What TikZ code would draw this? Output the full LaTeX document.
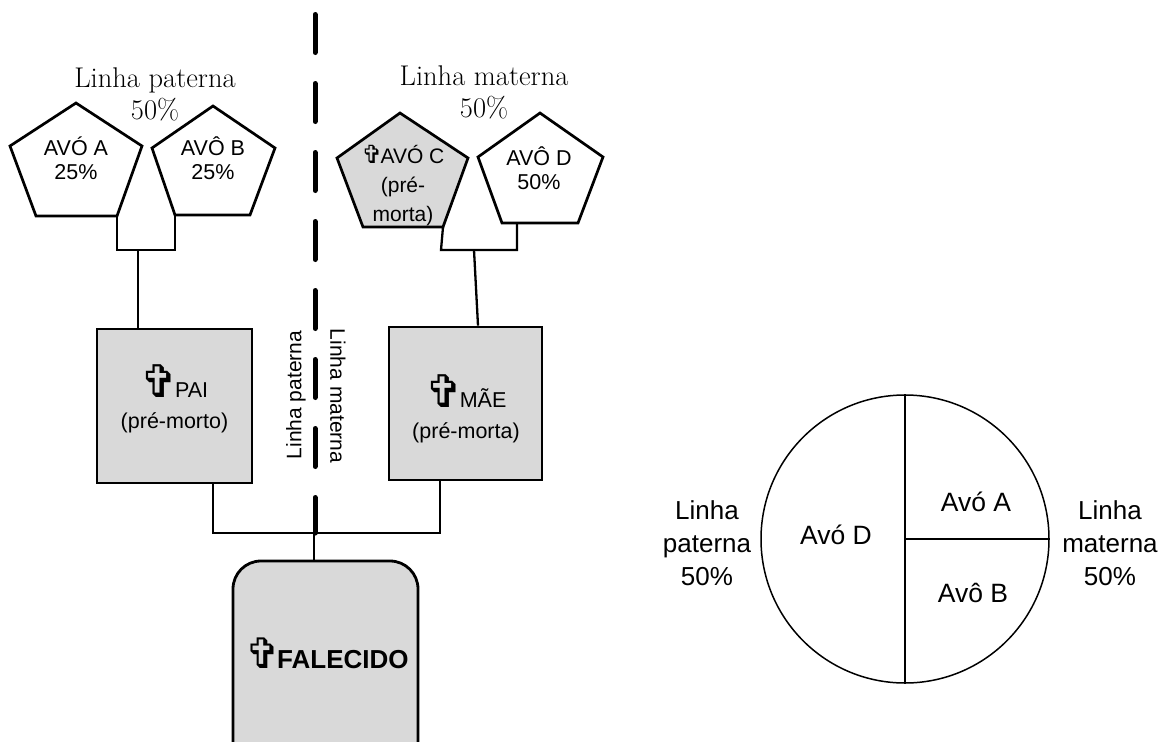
\documentclass[tikz,border=0pt]{standalone}
\usepackage{fontspec}
\newfontfamily\arialike{Liberation Sans}
\newfontfamily\dejavu{DejaVu Sans}
\newcommand{\obitcross}[1]{{\fontsize{#1}{#1}\dejavu ✞\kern-0.08em}}
\newcommand{\fs}[2]{\fontsize{#1}{#2}\selectfont}
\definecolor{boxgray}{HTML}{D9D9D9}

\begin{document}
\begin{tikzpicture}[x=1pt,y=-1pt,
  pent/.style={draw=black, line width=2.7pt, line join=miter, fill=white},
  pentdead/.style={pent, fill=boxgray},
  famBox/.style={draw=black, line width=2.8pt, fill=boxgray, minimum width=155pt, minimum height=154pt, inner sep=0pt},
  link/.style={draw=black, line width=2.3pt},
  sanslbl/.style={font=\arialike\fs{21.5}{24}, align=center, inner sep=0pt},
  serifl/.style={font=\fs{28.5}{32}, align=center, inner sep=0pt},
  pielbl/.style={font=\arialike\fs{26.5}{33}, align=center, inner sep=0pt},
]
\useasboundingbox (0,0) rectangle (1168,742);
\clip (0,0) rectangle (1168,742);

% ---- paternal / maternal divider ----
\coordinate (div-top) at (315,14.5);
\coordinate (div-bot) at (315,533);
\draw[line width=5pt, line cap=round, dash pattern=on 38pt off 31pt] (div-top) -- (div-bot);
\node[font=\arialike\fs{21}{21}, rotate=90, inner sep=0pt] (vpat) at (296,395) {Linha paterna};
\node[font=\arialike\fs{21}{21}, rotate=-90, inner sep=0pt] (vmat) at (338,396) {Linha materna};

% ---- line headings ----
\node[serifl] (hpat) at (155,94) {Linha paterna\\50\%};
\node[serifl] (hmat) at (484,92) {Linha materna\\50\%};

% ---- grandparents (pentagons) ----
\draw[pent] (76,103) -- (142,146) -- (117,216) coordinate (A-br) -- (36,216) -- (10,146) -- cycle;
\draw[pent] (213,106) -- (275,148) -- (250,215) -- (175,215) coordinate (B-bl) -- (152,148) -- cycle;
\draw[pentdead] (400,113) -- (468,158) -- (443,227) coordinate (C-br) -- (363,227) -- (337,158) -- cycle;
\draw[pent] (540,113) -- (603,157) -- (578,223) -- (502,223) -- (478,157) -- cycle;
\coordinate (D-j) at (517,223);

\node[sanslbl] (tA) at (76,158) {AVÓ A\\25\%};
\node[sanslbl] (tB) at (213,158) {AVÔ B\\25\%};
\node[sanslbl, font=\arialike\fs{21}{29}] (tC) at (403,186) {\obitcross{25}AVÓ C\\(pré-\\morta)};
\node[sanslbl] (tD) at (539,168) {AVÔ D\\50\%};

% ---- parents ----
\node[famBox] (PAI) at (174.5,406) {};
\node[sanslbl, font=\arialike\fs{21.5}{31}] (tPAI) at (174.5,399) {\obitcross{45}PAI\\(pré-morto)};
\node[famBox, minimum width=153pt, minimum height=153pt] (MAE) at (465.5,403.5) {};
\node[sanslbl, font=\arialike\fs{21.5}{31}] (tMAE) at (466,409) {\obitcross{45}MÃE\\(pré-morta)};

% ---- deceased ----
\node[draw=black, line width=2.8pt, fill=boxgray, rounded corners=28pt,
      minimum width=185pt, minimum height=220pt, inner sep=0pt] (FAL) at (325.5,671) {};
\node[font=\arialike\bfseries\fs{26}{26}, inner sep=0pt] (tFAL) at (327,653) {\obitcross{42}FALECIDO};

% ---- connectors ----
\coordinate (AB-j) at (138,250);
\coordinate (CD-j) at (474,250);
\coordinate (fam) at (314,533);
\draw[link] (A-br) |- (AB-j) -| (B-bl);
\draw[link] (AB-j) -- (AB-j |- PAI.north);
\draw[link] (C-br) -- (441,250) -| (D-j);
\draw[link] (CD-j) -- ([xshift=12.5pt]MAE.north);
\draw[link] ([xshift=38.5pt]PAI.south) |- (fam) -| ([xshift=-25.5pt]MAE.south);
\draw[link] (fam) -- (fam |- FAL.north);

% ---- share circle ----
\node[circle, draw=black, line width=1.5pt, minimum size=288pt, inner sep=0pt] (pie) at (905,539) {};
\draw[line width=2.6pt] (pie.north) -- (pie.south);
\draw[line width=1.7pt] (pie.center) -- (pie.east);
\node[pielbl] (pD) at (836,535) {Avó D};
\node[pielbl] (pA) at (976,502) {Avó A};
\node[pielbl] (pB) at (973,593) {Avô B};
\node[pielbl, font=\arialike\fs{26}{33}] (lpat) at (707,543) {Linha\\paterna\\50\%};
\node[pielbl, font=\arialike\fs{26}{33}] (lmat) at (1110,543) {Linha\\materna\\50\%};
\end{tikzpicture}
\end{document}
